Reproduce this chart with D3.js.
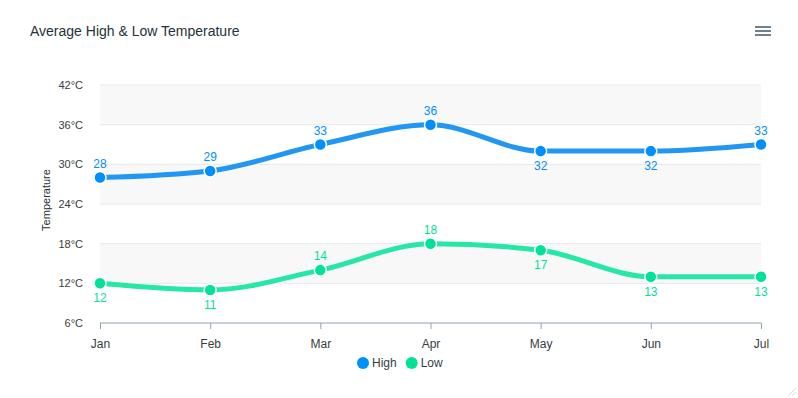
<!DOCTYPE html>
<html>
<head>
<meta charset="utf-8">
<script src="https://cdn.jsdelivr.net/npm/d3@7"></script>
<style>
  body { margin: 0; background: #fff; }
  text { font-family: "Liberation Sans", Helvetica, Arial, sans-serif; }
</style>
</head>
<body>
<div id="chart"></div>
<script>
// chart data
const months = ['Jan', 'Feb', 'Mar', 'Apr', 'May', 'Jun', 'Jul'];
const highTemps = [28, 29, 33, 36, 32, 32, 33];
const lowTemps = [12, 11, 14, 18, 17, 13, 13];
const yTicks = [6, 12, 18, 24, 30, 36, 42];
// label placement: true = above the point
const highLabelAbove = [true, true, true, true, false, false, true];
const lowLabelAbove = [false, false, true, true, false, false, false];

const width = 798, height = 398;
const margin = { top: 85, right: 37, bottom: 75, left: 100 };

const svg = d3.select('#chart').append('svg')
    .attr('width', width)
    .attr('height', height);

const x = d3.scalePoint()
    .domain(months)
    .range([margin.left, width - margin.right]);

const y = d3.scaleLinear()
    .domain([6, 42])
    .range([height - margin.bottom, margin.top]);

// alternating row bands
const bands = svg.append('g');
for (let i = 0; i < yTicks.length - 1; i++) {
    if ((yTicks.length - 2 - i) % 2 === 0) {
        bands.append('rect')
            .attr('x', margin.left)
            .attr('y', y(yTicks[i + 1]))
            .attr('width', x.range()[1] - margin.left)
            .attr('height', y(yTicks[i]) - y(yTicks[i + 1]))
            .attr('fill', '#f8f8f8');
    }
}

// grid lines
svg.append('g')
    .selectAll('line')
    .data(yTicks.slice(1))
    .join('line')
    .attr('x1', margin.left)
    .attr('x2', x.range()[1])
    .attr('y1', d => y(d))
    .attr('y2', d => y(d))
    .attr('stroke', '#e8e8e8');

// y axis labels
svg.append('g')
    .attr('transform', 'translate(' + (margin.left - 14) + ',0)')
    .call(d3.axisLeft(y).tickValues(yTicks).tickSize(0).tickFormat(d => d + '°C'))
    .call(g => g.select('.domain').remove())
    .selectAll('text')
    .attr('fill', '#373d3f')
    .style('font-size', '11px');

// x axis
const xAxis = svg.append('g')
    .attr('transform', 'translate(0,' + y(6) + ')')
    .call(d3.axisBottom(x).tickSize(6).tickPadding(10));
xAxis.select('.domain').attr('stroke', '#90a4ae').attr('stroke-width', 1.2)
    .attr('d', 'M' + margin.left + ',0H' + x.range()[1]);
xAxis.selectAll('line').attr('stroke', '#90a4ae');
xAxis.selectAll('text')
    .attr('fill', '#373d3f')
    .style('font-size', '12px');

// y axis title
svg.append('text')
    .attr('transform', 'translate(50,' + (y(24) - 4) + ') rotate(-90)')
    .attr('text-anchor', 'middle')
    .attr('fill', '#263238')
    .style('font-size', '11px')
    .text('Temperature');

const series = [
    { name: 'High', values: highTemps, above: highLabelAbove, line: '#2196f3', color: '#008ffb' },
    { name: 'Low', values: lowTemps, above: lowLabelAbove, line: '#26e7a6', color: '#00e396' }
];

const line = d3.line()
    .x((d, i) => x(months[i]))
    .y(d => y(d))
    .curve(d3.curveMonotoneX);

series.forEach(s => {
    svg.append('path')
        .datum(s.values)
        .attr('d', line)
        .attr('fill', 'none')
        .attr('stroke', s.line)
        .attr('stroke-width', 5)
        .attr('stroke-linecap', 'butt');

    svg.append('g')
        .selectAll('circle')
        .data(s.values)
        .join('circle')
        .attr('cx', (d, i) => x(months[i]))
        .attr('cy', d => y(d))
        .attr('r', 6)
        .attr('fill', s.color)
        .attr('stroke', '#fff')
        .attr('stroke-width', 1.5);

    svg.append('g')
        .selectAll('text')
        .data(s.values)
        .join('text')
        .attr('x', (d, i) => x(months[i]))
        .attr('y', (d, i) => s.above[i] ? y(d) - 10 : y(d) + 19)
        .attr('text-anchor', 'middle')
        .attr('fill', s.color)
        .style('font-size', '12px')
        .text(d => d);
});

// legend
const legend = svg.append('g').attr('transform', 'translate(363,363)');
let lx = 0;
series.forEach(s => {
    legend.append('circle').attr('cx', lx).attr('cy', 0).attr('r', 6).attr('fill', s.color);
    const t = legend.append('text')
        .attr('x', lx + 9)
        .attr('y', 4)
        .attr('fill', '#373d3f')
        .style('font-size', '12px')
        .text(s.name);
    lx += 9 + t.node().getComputedTextLength() + 15;
});

// title
svg.append('text')
    .attr('x', 30)
    .attr('y', 36)
    .attr('fill', '#263238')
    .style('font-size', '14px')
    .text('Average High & Low Temperature');

// menu icon
svg.append('g')
    .selectAll('line')
    .data([27, 31, 35])
    .join('line')
    .attr('x1', 755).attr('x2', 771)
    .attr('y1', d => d).attr('y2', d => d)
    .attr('stroke', '#6e8192')
    .attr('stroke-width', 2);

// resize handle
svg.append('g')
    .selectAll('line')
    .data([4, 8])
    .join('line')
    .attr('x1', d => 796 - d).attr('y1', 396)
    .attr('x2', 796).attr('y2', d => 396 - d)
    .attr('stroke', '#ccc')
    .attr('stroke-width', 0.8);
</script>
</body>
</html>
